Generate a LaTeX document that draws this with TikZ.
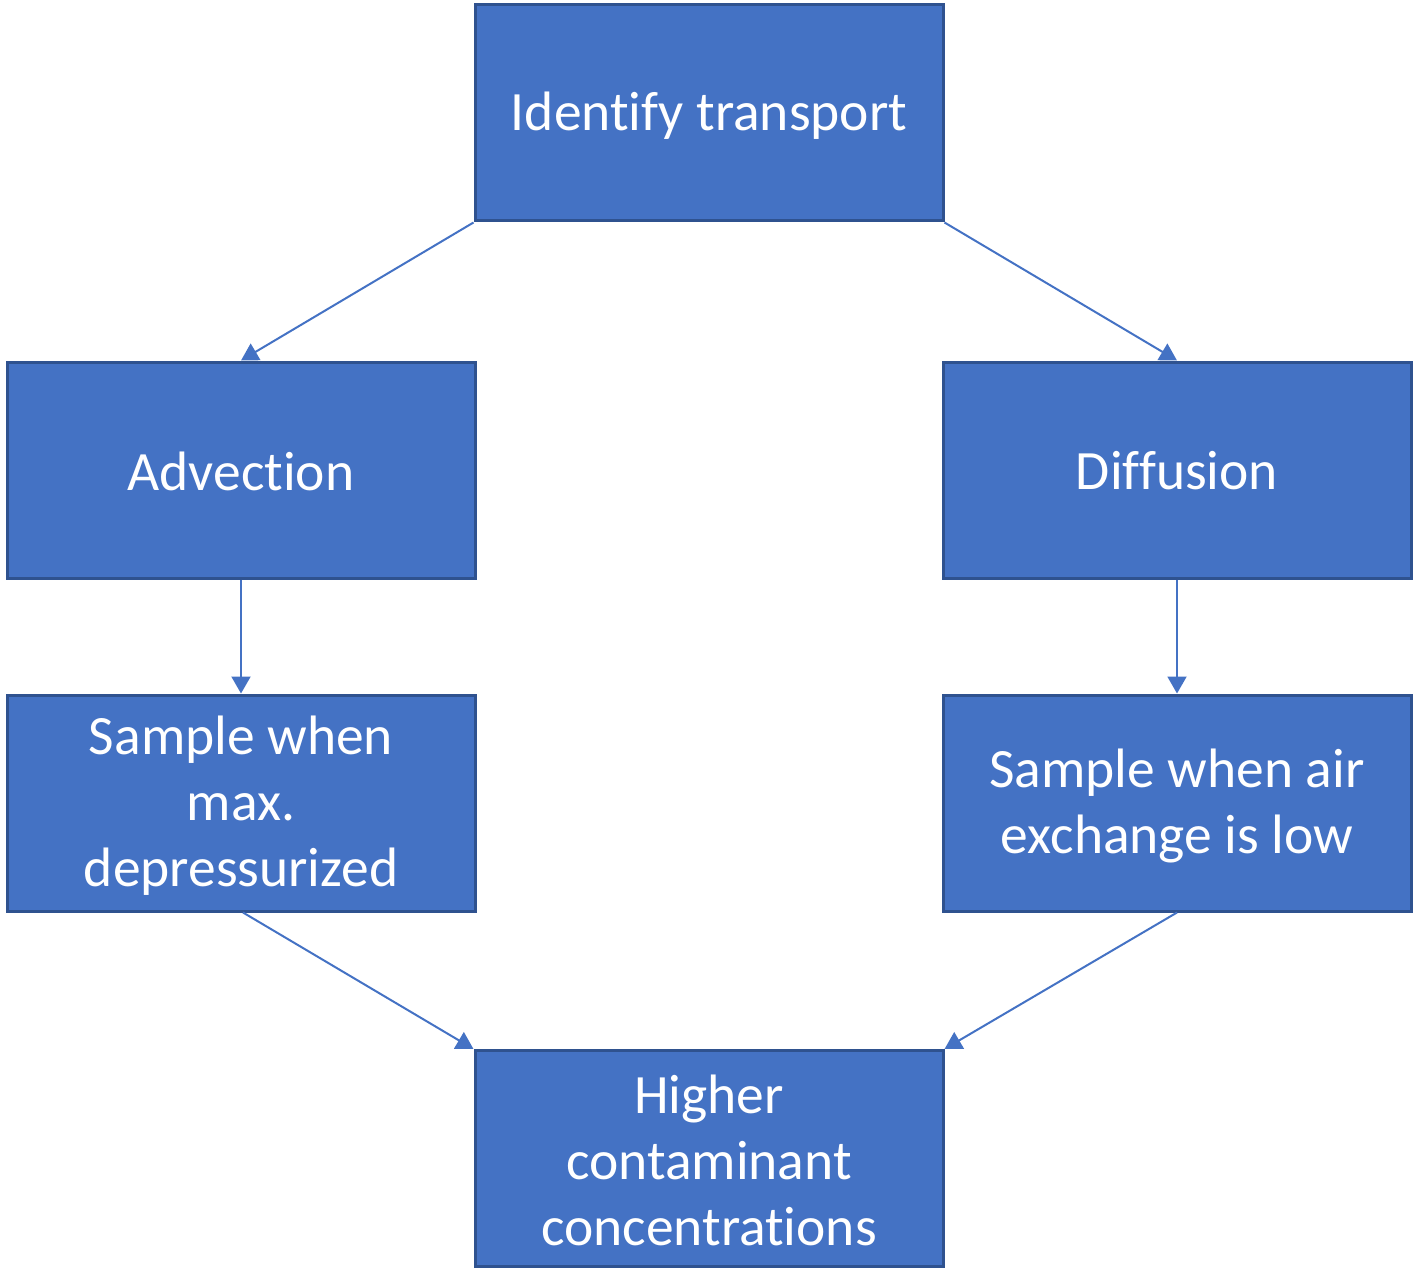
\documentclass[tikz,border=0pt]{standalone}
\usepackage{fontspec}
\setmainfont{Carlito}[RawFeature={-liga}]
\usetikzlibrary{arrows.meta,calc}
\definecolor{boxfill}{HTML}{4472C4}
\definecolor{boxline}{HTML}{2F528F}
\tikzset{
  stepbox/.style={draw=boxline, line width=3pt, fill=boxfill,
    minimum width=468pt, minimum height=216pt, inner sep=0pt},
  boxtext/.style={text=white, inner sep=0pt, align=center,
    font=\fontsize{55.5pt}{66pt}\selectfont},
  conn/.style={draw=boxfill, line width=2pt, -{Triangle[width=19pt,length=17pt]}}
}
\begin{document}
\begin{tikzpicture}[x=1pt,y=-1pt]
\useasboundingbox (0,0) rectangle (1420,1273);
\node[stepbox] (top) at (709,113) {};
\node[stepbox] (adv) at (241,470) {};
\node[stepbox] (dif) at (1177,470) {};
\node[stepbox] (sl) at (241,803) {};
\node[stepbox] (sr) at (1177,803) {};
\node[stepbox] (hi) at (709,1158.5) {};
\node[boxtext] (topt) at ([yshift=-3pt]top.center) {Identify transport};
\node[boxtext] (advt) at ([yshift=-1pt]adv.center) {Advection};
\node[boxtext] (dift) at ([yshift=-1pt]dif.center) {Diffusion};
\node[boxtext] (slt) at ([yshift=-3pt]sl.center) {Sample when\\max.\\depressurized};
\node[boxtext] (srt) at ([yshift=-3pt]sr.center) {Sample when air\\exchange is low};
\node[boxtext] (hit) at ([yshift=-2pt]hi.center) {Higher\\contaminant\\concentrations};
\draw[conn] (top.south west) -- (adv.north);
\draw[conn] (top.south east) -- (dif.north);
\draw[conn] (adv.south) -- (sl.north);
\draw[conn] (dif.south) -- (sr.north);
\draw[conn] ($(sl.south)+(2,0)$) -- (hi.north west);
\draw[conn] (sr.south) -- (hi.north east);
\end{tikzpicture}
\end{document}
